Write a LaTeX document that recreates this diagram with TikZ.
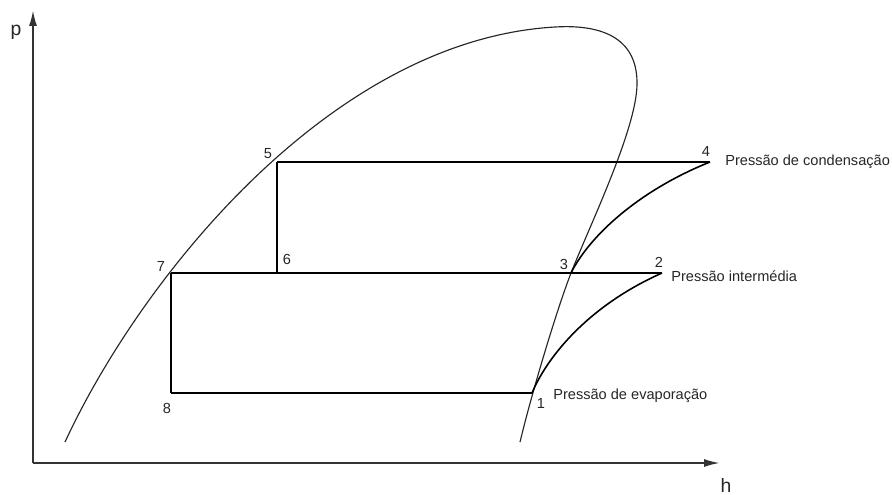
\documentclass[tikz,border=0pt]{standalone}
\usepackage{fontspec}
\setmainfont{Liberation Sans}
\usetikzlibrary{arrows.meta}
\begin{document}
\begin{tikzpicture}[x=0.02cm,y=-0.02cm,
  axisline/.style={line width=1.1pt,draw=black!80,-{Latex[length=9pt,width=4.5pt]}},
  cyc/.style={line width=0.9pt,draw=black},
  dome/.style={line width=0.65pt,draw=black!85},
  lbl/.style={font=\fontsize{8.3}{9}\selectfont,inner sep=0pt,text=black!85},
  axlbl/.style={font=\fontsize{11}{12}\selectfont,inner sep=0pt,text=black!85}]
\useasboundingbox (0,0) rectangle (892,494);
% axes
\coordinate (o) at (33,463);
\coordinate (ptop) at (33,10);
\coordinate (hend) at (720,463);
\draw[axisline] (o) -- (ptop);
\draw[axisline] (o) -- (hend);
\node[axlbl] (plab) at (16,32) {p};
\node[axlbl] (hlab) at (726,485) {h};
% state points
\coordinate (p1) at (532,393);
\coordinate (p2) at (662,273);
\coordinate (p3) at (571,273);
\coordinate (p4) at (710,162);
\coordinate (p5) at (277,162);
\coordinate (p6) at (277,273);
\coordinate (p7) at (171,273);
\coordinate (p8) at (171,393);
% saturation dome
\coordinate (dl) at (65,442);
\coordinate (dtop) at (555,27);
\coordinate (dr) at (637,85);
\coordinate (dend) at (520,442);
\draw[dome] (dl) .. controls (140,280) and (330,40) .. (dtop)
  .. controls (605,24) and (638,40) .. (dr)
  .. controls (636,130) and (590,225) .. (p3)
  .. controls (557,309) and (532,392) .. (dend);
% cycle
\draw[cyc] (p5) -- (p4);
\draw[cyc] (p7) -- (p2);
\draw[cyc] (p8) -- (p1);
\draw[cyc] (p5) -- (p6);
\draw[cyc] (p7) -- (p8);
\draw[cyc] (p1) .. controls (548,355) and (590,305) .. (p2);
\draw[cyc] (p3) .. controls (590,235) and (640,190) .. (p4);
% labels
\node[lbl] (l1) at (541,403) {1};
\node[lbl] (l2) at (659,262) {2};
\node[lbl] (l3) at (564,264) {3};
\node[lbl] (l4) at (706,151) {4};
\node[lbl] (l5) at (268,154) {5};
\node[lbl] (l6) at (287,259) {6};
\node[lbl] (l7) at (161,266) {7};
\node[lbl] (l8) at (167,408) {8};
\node[lbl,anchor=west] (tc) at (725,162) {Pressão de condensação};
\node[lbl,anchor=west] (ti) at (671,276) {Pressão intermédia};
\node[lbl,anchor=west] (te) at (553,396) {Pressão de evaporação};
\end{tikzpicture}
\end{document}
